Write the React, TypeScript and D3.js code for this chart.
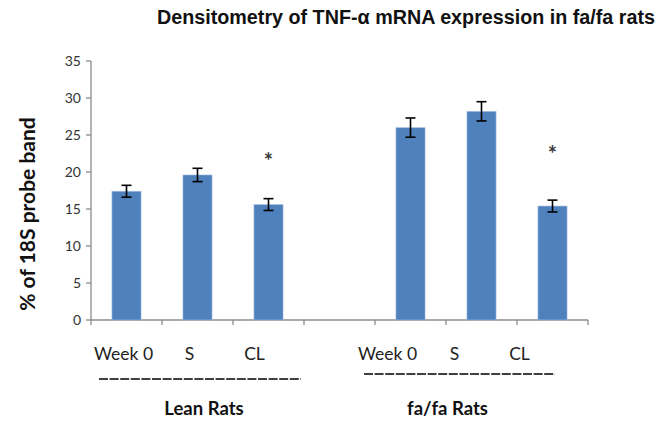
import React from "react";
import * as d3 from "d3";

const categories = ["Week 0", "S", "CL", "", "Week 0", "S", "CL"];
const values: (number | null)[] = [17.4, 19.6, 15.6, null, 26.0, 28.2, 15.4];
const errors: (number | null)[] = [0.8, 0.9, 0.8, null, 1.3, 1.3, 0.8];
const asteriskLevels: (number | null)[] = [null, null, 20.4, null, null, null, 21.3];
const labelOffsets = [-3, -8, -14, 0, -23, -27, -33];
const yTicks = [0, 5, 10, 15, 20, 25, 30, 35];
const groups = [
  { name: "Lean Rats", from: 0, to: 2 },
  { name: "fa/fa Rats", from: 4, to: 6 },
];

const W = 664;
const H = 425;
const left = 91;
const right = 588;
const top = 61;
const bottom = 320;

export default function App() {
  const keys = categories.map((_, i) => String(i));
  const x = d3.scaleBand<string>().domain(keys).range([left, right]).padding(0);
  const y = d3.scaleLinear().domain([0, 35]).range([bottom, top]);
  const bw = x.bandwidth() * 0.41;
  const axisColor = "#8c8c8c";
  const font = "Lato, 'Open Sans', sans-serif";

  return (
    <svg width={W} height={H} style={{ position: "absolute", left: 0, top: 0, background: "#fff" }}>
      <text
        x={157}
        y={24}
        textLength={498}
        lengthAdjust="spacingAndGlyphs"
        fontFamily="'Liberation Sans', Arial, sans-serif"
        fontWeight="bold"
        fontSize={20}
        fill="#111"
      >
        Densitometry of TNF-α mRNA expression in fa/fa rats
      </text>
      <text
        transform={`translate(35,214) rotate(-90)`}
        textAnchor="middle"
        fontFamily={font}
        fontWeight="bold"
        fontSize={21}
        fill="#111"
      >
        % of 18S probe band
      </text>
      {/* y axis */}
      <line x1={left} x2={left} y1={y(35)} y2={y(0)} stroke={axisColor} strokeWidth={1.3} />
      {yTicks.map((t) => (
        <g key={t}>
          <line x1={left - 5} x2={left} y1={y(t)} y2={y(t)} stroke={axisColor} strokeWidth={1.3} />
          <text x={81} y={y(t) + 5} textAnchor="end" fontFamily={font} fontSize={14} fill="#333">
            {t}
          </text>
        </g>
      ))}
      {/* x axis */}
      <line x1={left} x2={right} y1={y(0)} y2={y(0)} stroke={axisColor} strokeWidth={1.3} />
      {d3.range(categories.length + 1).map((i) => {
        const xx = left + i * x.step();
        return <line key={i} x1={xx} x2={xx} y1={y(0)} y2={y(0) + 5} stroke={axisColor} strokeWidth={1.3} />;
      })}
      {/* bars */}
      {values.map((v, i) => {
        if (v == null) return null;
        const cx = (x(keys[i]) as number) + x.bandwidth() / 2;
        const e = errors[i] as number;
        return (
          <g key={i}>
            <rect x={cx - bw / 2} y={y(v)} width={bw} height={y(0) - y(v)} fill="#4F81BD" stroke="#a9c2e2" strokeWidth={0.6} />
            <line x1={cx} x2={cx} y1={y(v + e)} y2={y(v - e)} stroke="#000" strokeWidth={1.6} />
            <line x1={cx - 5} x2={cx + 5} y1={y(v + e)} y2={y(v + e)} stroke="#000" strokeWidth={1.6} />
            <line x1={cx - 5} x2={cx + 5} y1={y(v - e)} y2={y(v - e)} stroke="#000" strokeWidth={1.6} />
          </g>
        );
      })}
      {asteriskLevels.map((a, i) => {
        if (a == null) return null;
        const cx = (x(keys[i]) as number) + x.bandwidth() / 2;
        return (
          <text key={i} x={cx} y={y(a)} textAnchor="middle" fontFamily={font} fontWeight="bold" fontSize={22} fill="#3a3a3a">
            *
          </text>
        );
      })}
      {/* category labels */}
      {categories.map((c, i) => {
        if (!c) return null;
        const cx = (x(keys[i]) as number) + x.bandwidth() / 2 + labelOffsets[i];
        return (
          <text key={i} x={cx} y={360} textAnchor="middle" fontFamily={font} fontSize={17.5} fill="#222">
            {c}
          </text>
        );
      })}
      {/* group brackets */}
      {groups.map((g, gi) => {
        const x0 = (x(keys[g.from]) as number) + (gi === 0 ? 8 : -11);
        const x1 = (x(keys[g.to]) as number) + x.bandwidth() + (gi === 0 ? -3 : -33);
        const ly = gi === 0 ? 379 : 374;
        const cx = (x0 + x1) / 2 + (gi === 0 ? 4 : -12);
        return (
          <g key={g.name}>
            <line x1={x0} x2={x1} y1={ly} y2={ly} stroke="#000" strokeWidth={1.6} strokeDasharray="9 1.6" />
            <text x={cx} y={415} textAnchor="middle" fontFamily={font} fontWeight="bold" fontSize={18.5} fill="#111">
              {g.name}
            </text>
          </g>
        );
      })}
    </svg>
  );
}
